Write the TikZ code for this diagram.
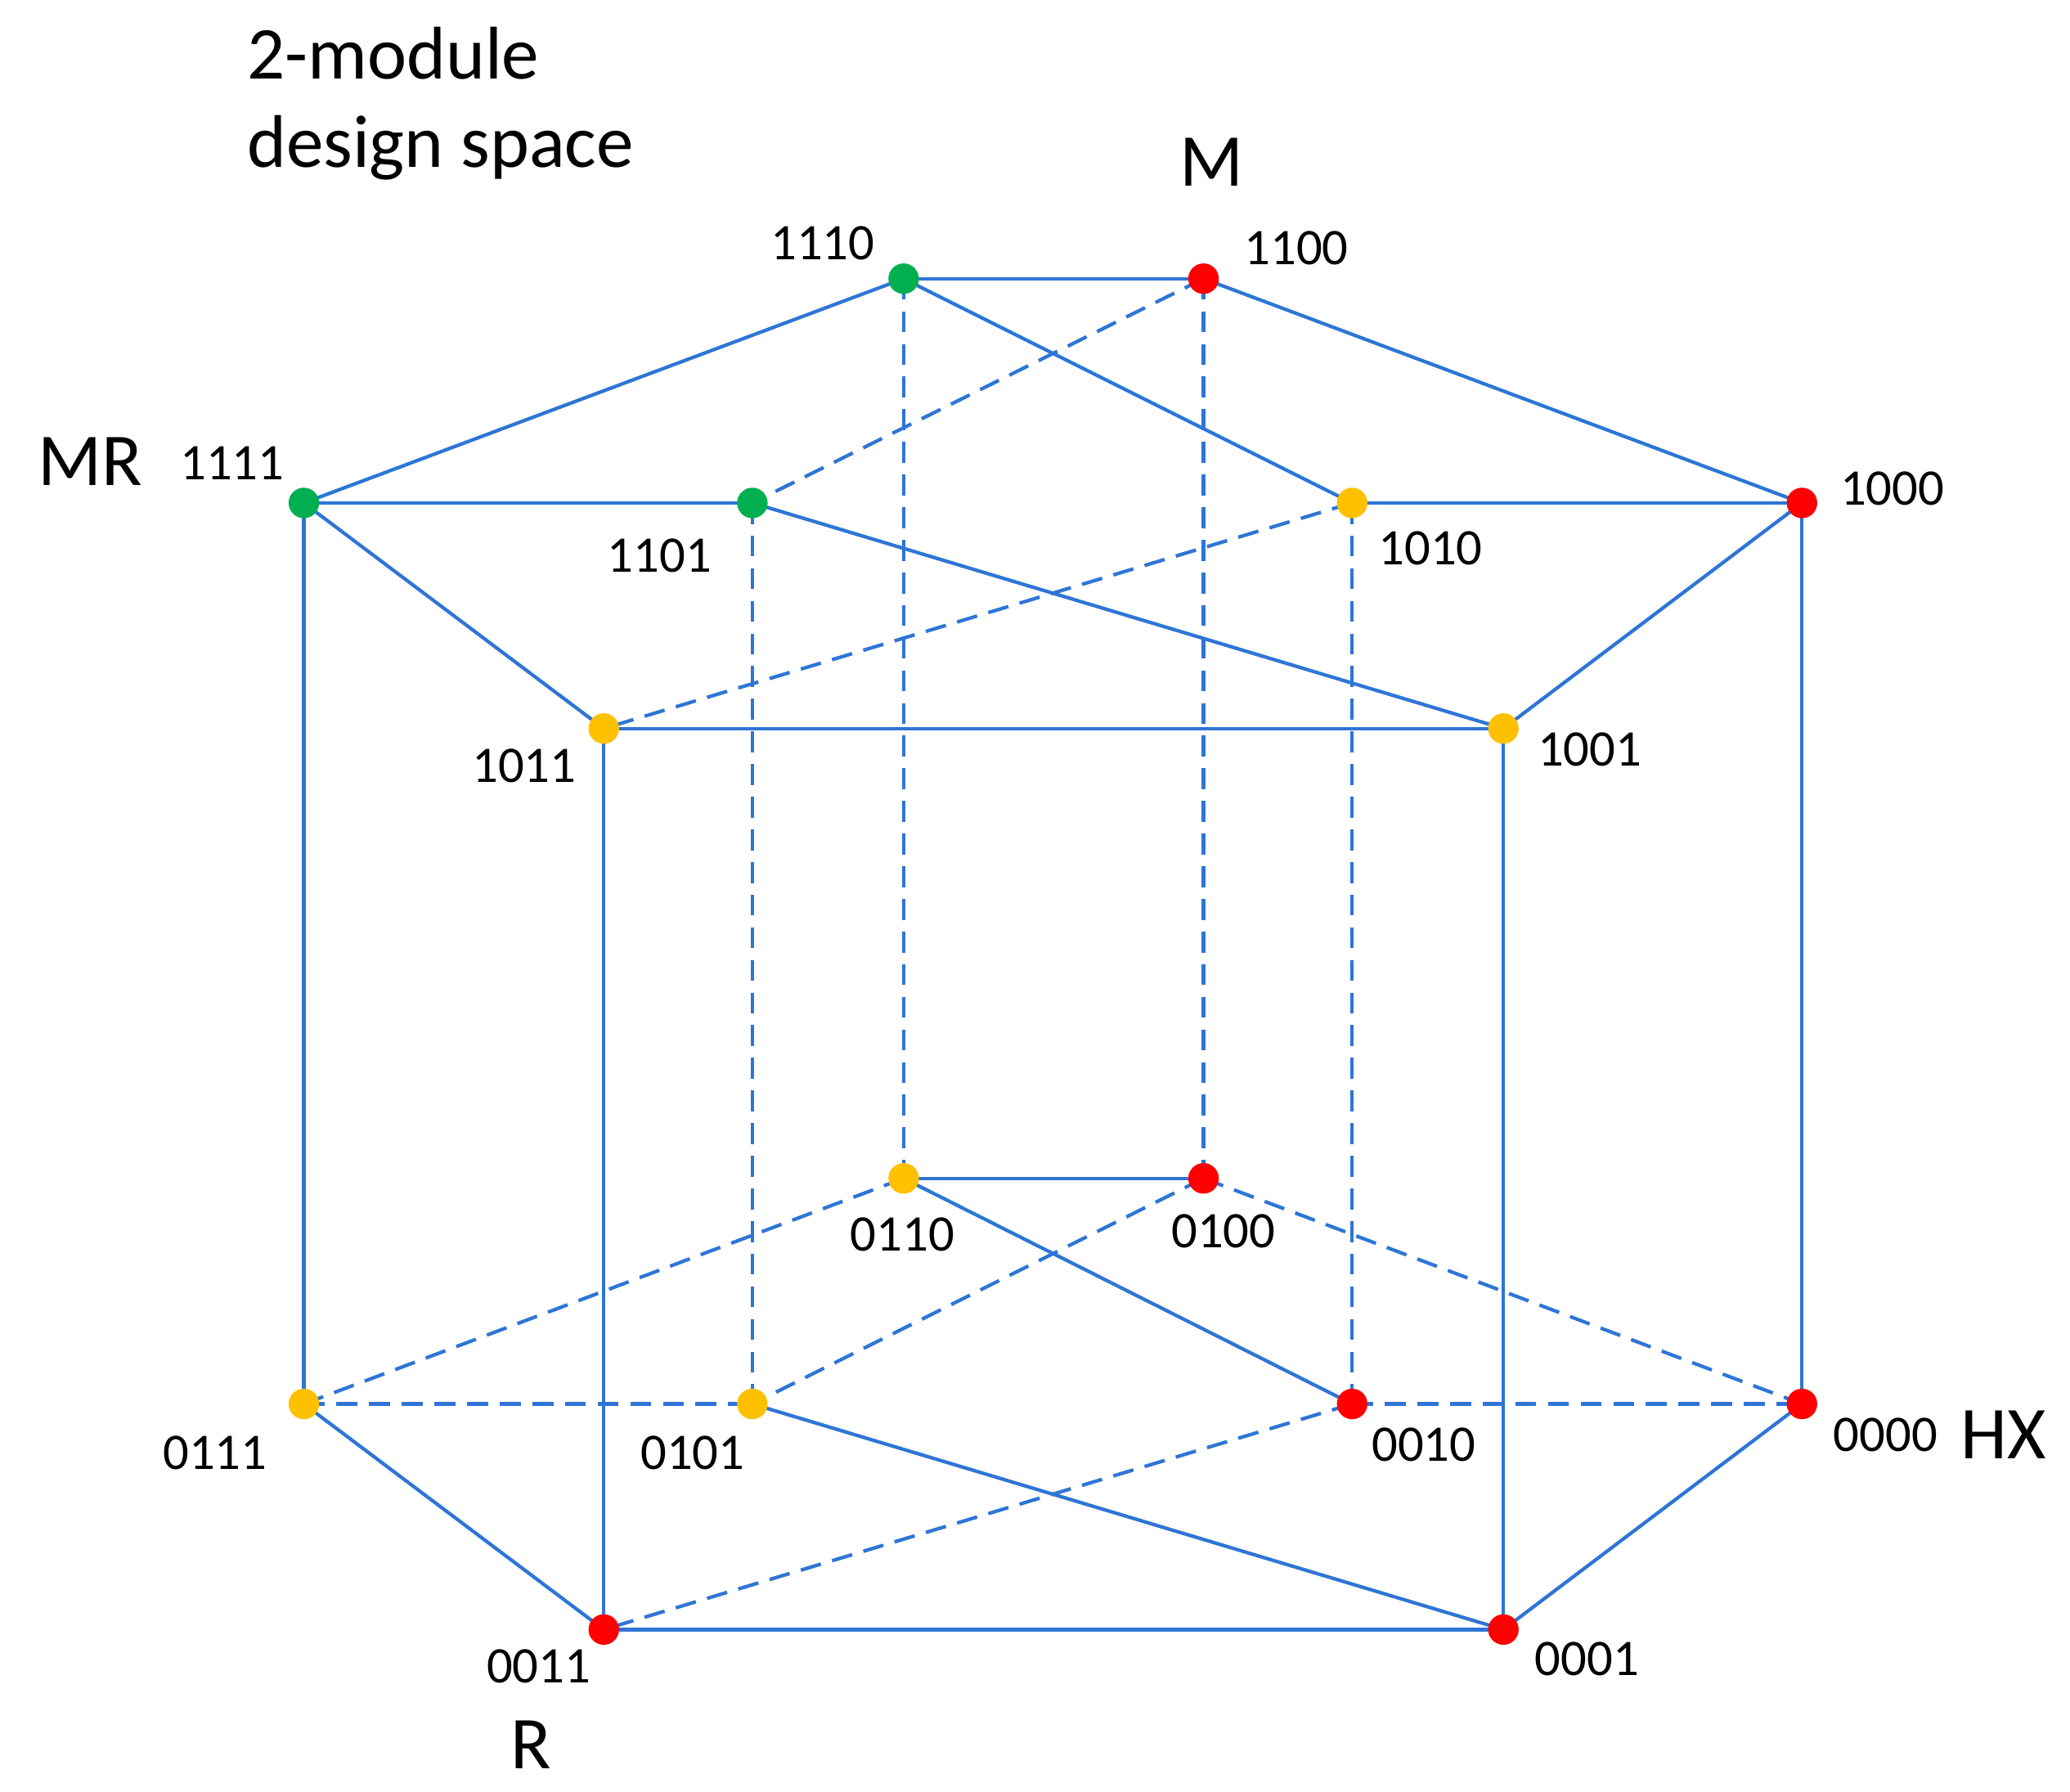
\documentclass[tikz,border=0pt]{standalone}
\usepackage{fontspec}
\setmainfont{Carlito}
\definecolor{edge}{RGB}{46,117,214}
\definecolor{gr}{RGB}{0,176,80}
\definecolor{ye}{RGB}{255,192,0}
\definecolor{rd}{RGB}{255,0,0}
\begin{document}
\begin{tikzpicture}[x=0.02cm,y=-0.02cm,
  v/.style={circle,inner sep=0pt,minimum size=0.46cm,fill=#1},
  e/.style={draw=edge,line width=1.5pt},
  d/.style={draw=edge,line width=1.5pt,dash pattern=on 9pt off 5pt},
  lab/.style={font=\fontsize{22}{24}\selectfont},
  big/.style={font=\fontsize{32}{38}\selectfont}]
\useasboundingbox (0,0) rectangle (1560,1350);
\coordinate (c1110) at (681,210); \coordinate (c1100) at (907,210);
\coordinate (c1111) at (229,379); \coordinate (c1101) at (567,379);
\coordinate (c1010) at (1019,379); \coordinate (c1000) at (1358,379);
\coordinate (c1011) at (455,549); \coordinate (c1001) at (1133,549);
\coordinate (c0110) at (681,888); \coordinate (c0100) at (907,888);
\coordinate (c0111) at (229,1058); \coordinate (c0101) at (567,1058);
\coordinate (c0010) at (1019,1058); \coordinate (c0000) at (1358,1058);
\coordinate (c0011) at (455,1228); \coordinate (c0001) at (1133,1228);
\foreach \a/\b in {1110/1100,1110/1111,1100/1000,1111/1101,1010/1000,1110/1010,1101/1001,1111/1011,1000/1001,1011/1001,1111/0111,1000/0000,1011/0011,1001/0001,0110/0100,0110/0010,0111/0011,0101/0001,0011/0001,0000/0001}
  \path[e] (c\a) -- (c\b);
\foreach \a/\b in {1100/1101,1010/1011,1110/0110,1100/0100,1101/0101,1010/0010,0110/0111,0100/0101,0100/0000,0111/0101,0010/0000,0010/0011}
  \path[d] (c\a) -- (c\b);
\foreach \n/\c in {1110/gr,1111/gr,1101/gr,1100/rd,1000/rd,0100/rd,0010/rd,0000/rd,0011/rd,0001/rd,1010/ye,1011/ye,1001/ye,0110/ye,0111/ye,0101/ye}
  \node[v=\c] (n\n) at (c\n) {};
\node[lab] at (620,183) {1110}; \node[lab] at (977,187) {1100};
\node[lab] at (175,349) {1111}; \node[lab] at (497,419) {1101};
\node[lab] at (1078,413) {1010}; \node[lab] at (1426,368) {1000};
\node[lab] at (395,577) {1011}; \node[lab] at (1198,565) {1001};
\node[lab] at (680,930) {0110}; \node[lab] at (922,928) {0100};
\node[lab] at (162,1095) {0111}; \node[lab] at (522,1095) {0101};
\node[lab] at (1073,1089) {0010}; \node[lab] at (1421,1081) {0000};
\node[lab] at (406,1256) {0011}; \node[lab] at (1196,1250) {0001};
\node[big,anchor=west,align=left] at (180,78) {2-module\\design space};
\node[big] at (913,122) {M};
\node[big] at (68,348) {MR};
\node[big] at (1510,1081) {HX};
\node[big] at (400,1315) {R};
\end{tikzpicture}
\end{document}
